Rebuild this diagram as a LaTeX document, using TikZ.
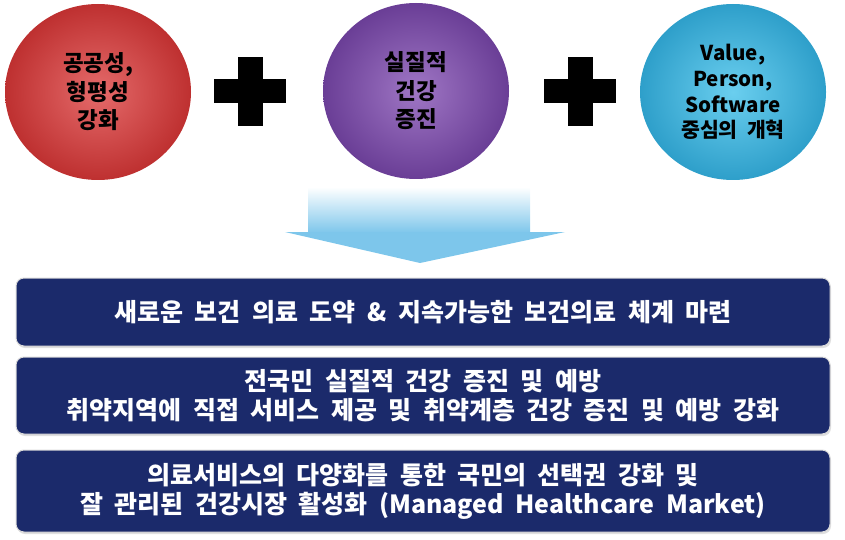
\documentclass[tikz,border=0pt]{standalone}
\usepackage{fontspec}
\setmainfont{Noto Sans CJK KR}[WordSpace=2]
\usetikzlibrary{shapes.geometric,shadows}

\definecolor{redgoal}{HTML}{E05050}
\definecolor{redrim}{HTML}{BE3030}
\definecolor{purplegoal}{HTML}{8E5EBA}
\definecolor{purplerim}{HTML}{6A3E96}
\definecolor{bluegoal}{HTML}{50C6EC}
\definecolor{bluerim}{HTML}{2E9FCA}
\definecolor{arrowblue}{HTML}{7DC6EB}
\definecolor{navybox}{HTML}{1B2A6B}

\begin{document}
\begin{tikzpicture}[x=1pt,y=-1pt,
    goal/.style={ellipse, minimum width=186pt, minimum height=176pt, inner sep=0pt,
      align=center, font=\fontsize{22.5}{28.5}\selectfont\bfseries},
    plusbar/.style={fill=black},
    taskbox/.style={draw=black!15, line width=1pt, fill=navybox, rounded corners=8pt,
      minimum width=814pt, inner sep=0pt, text=white, align=center,
      drop shadow={opacity=0.25, shadow xshift=1pt, shadow yshift=-2pt},
      font=\fontsize{25}{29}\selectfont\bfseries}]
    \useasboundingbox (0,0) rectangle (845,540);

    % the three goals
    \node[goal, inner color=redgoal!85!white, outer color=redrim] (pub) at (98,92) {공공성,\\형평성\\강화};
    \node[goal, inner color=purplegoal!85!white, outer color=purplerim] (health) at (416,91) {실질적\\건강\\증진};
    \node[goal, inner color=bluegoal!85!white, outer color=bluerim,
      font=\fontsize{20.5}{25.8}\selectfont\bfseries] (reform) at (733,92) {Value,\\Person,\\Software\\중심의 개혁};

    % plus signs
    \foreach \cx in {250,580} {
      \fill[plusbar] (\cx-36,79) rectangle (\cx+36,103);
      \fill[plusbar] (\cx-12.5,57) rectangle (\cx+12.5,126);
    }

    % down arrow
    \shade[top color=white, bottom color=arrowblue] (308,187) rectangle (530,233);
    \fill[arrowblue] (285,232) -- (565,232) -- (420,263) -- cycle;

    % boxes
    \node[taskbox, minimum height=68pt] (leap) at (423,312) {새로운 보건 의료 도약 \& 지속가능한 보건의료 체계 마련};
    \node[taskbox, minimum height=77pt] (prevent) at (423,395.5) {전국민 실질적 건강 증진 및 예방\\취약지역에 직접 서비스 제공 및 취약계층 건강 증진 및 예방 강화};
    \node[taskbox, minimum height=82pt] (market) at (423,491) {의료서비스의 다양화를 통한 국민의 선택권 강화 및\\잘 관리된 건강시장 활성화 (Managed Healthcare Market)};
\end{tikzpicture}
\end{document}
